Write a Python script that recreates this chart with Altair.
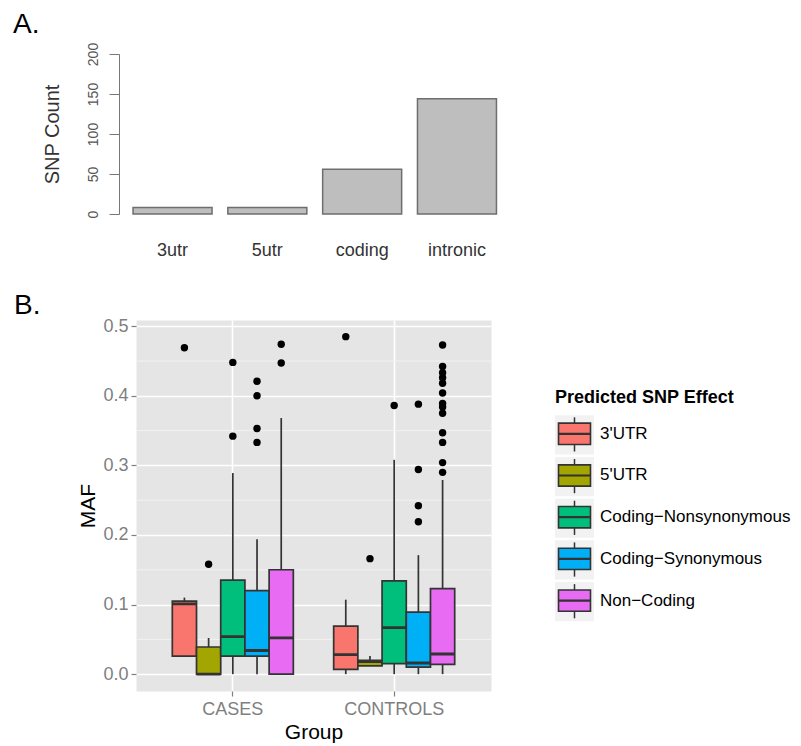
import altair as alt
import pandas as pd

# ---------------- Panel A data ----------------
region_cats = ["3utr", "5utr", "coding", "intronic"]
snp_counts = [8, 8, 56, 144]
count_ticks = [0, 50, 100, 150, 200]

# ---------------- Panel B data ----------------
groups = ["CASES", "CONTROLS"]
effects = ["3'UTR", "5'UTR", "Coding\u2212Nonsynonymous", "Coding\u2212Synonymous", "Non\u2212Coding"]
effect_colors = ["#F8766D", "#A3A500", "#00BF7D", "#00B0F6", "#E76BF3"]

cases_lower = [0.026, 0.000, 0.000, 0.000, 0.000]
cases_q1 = [0.026, 0.000, 0.026, 0.026, 0.000]
cases_median = [0.101, 0.000, 0.054, 0.034, 0.052]
cases_q3 = [0.105, 0.039, 0.135, 0.120, 0.150]
cases_upper = [0.110, 0.052, 0.289, 0.194, 0.368]

controls_lower = [0.000, 0.012, 0.000, 0.000, 0.000]
controls_q1 = [0.007, 0.012, 0.015, 0.010, 0.014]
controls_median = [0.028, 0.018, 0.067, 0.016, 0.029]
controls_q3 = [0.069, 0.020, 0.134, 0.089, 0.123]
controls_upper = [0.107, 0.026, 0.308, 0.171, 0.279]

cases_outliers = [
    [0.469],
    [0.158],
    [0.448, 0.342],
    [0.421, 0.400, 0.353, 0.333],
    [0.474, 0.447],
]
controls_outliers = [
    [0.485],
    [0.166],
    [0.386],
    [0.388, 0.294, 0.242, 0.219],
    [0.473, 0.442, 0.433, 0.426, 0.418, 0.404, 0.389, 0.384, 0.375, 0.347, 0.333, 0.304, 0.290],
]
maf_ticks = [0.0, 0.1, 0.2, 0.3, 0.4, 0.5]
maf_minor = [0.05, 0.15, 0.25, 0.35, 0.45]
maf_domain = [-0.0242, 0.5089]

legend_title = "Predicted SNP Effect"

# ---------------- tables ----------------
dfA = pd.DataFrame({"region": region_cats, "count": snp_counts})

box_rows = []
for g, lo, a, m, b, hi in [
    ("CASES", cases_lower, cases_q1, cases_median, cases_q3, cases_upper),
    ("CONTROLS", controls_lower, controls_q1, controls_median, controls_q3, controls_upper),
]:
    for i, e in enumerate(effects):
        box_rows.append({"group": g, "effect": e, "lower": lo[i], "q1": a[i],
                         "median": m[i], "q3": b[i], "upper": hi[i]})
box_df = pd.DataFrame(box_rows)

out_rows = []
for g, outs in [("CASES", cases_outliers), ("CONTROLS", controls_outliers)]:
    for i, e in enumerate(effects):
        for v in outs[i]:
            out_rows.append({"group": g, "effect": e, "maf": v})
out_df = pd.DataFrame(out_rows)
minor_df = pd.DataFrame({"v": maf_minor})

# ---------------- Panel A ----------------
chartA = alt.Chart(dfA).mark_bar(color="#BEBEBE", stroke="#6E6E6E", strokeWidth=1.5).encode(
    x=alt.X("region:N", sort=region_cats, title=None,
            scale=alt.Scale(paddingInner=0.1667, paddingOuter=0.148, range=[-17, 374.5]),
            axis=alt.Axis(domain=False, ticks=False, labelAngle=0, labelFontSize=18,
                          labelColor="#333333", labelPadding=27)),
    y=alt.Y("count:Q", title="SNP Count", scale=alt.Scale(domain=[0, 200], nice=False),
            axis=alt.Axis(values=count_ticks, grid=False, labelAngle=270, labelAlign="center",
                          labelBaseline="alphabetic", labelFontSize=14, labelColor="#555555",
                          labelPadding=12, tickSize=10, tickColor="#777777", offset=17,
                          domainColor="#777777", titleFontSize=20, titleColor="#333333",
                          titleFontWeight="normal", titlePadding=24)),
).properties(
    width=374.5, height=160,
    title=alt.TitleParams("A.", anchor="start", frame="group", dx=-123, offset=-19,
                          fontSize=28, fontWeight="normal", baseline="alphabetic"),
)

# ---------------- Panel B ----------------
yscale = alt.Scale(domain=maf_domain, nice=False, zero=False)
yaxis = alt.Axis(values=maf_ticks, format=".1f", domain=False, grid=True, gridColor="white",
                 gridWidth=1.6, labelFontSize=18, labelColor="#7F7F7F", tickColor="#7F7F7F",
                 tickSize=5, tickWidth=1.2, labelPadding=3, titleFontSize=21,
                 titleFontWeight="normal", titleColor="black", titlePadding=4)
xaxis = alt.Axis(domain=False, grid=True, gridColor="white", gridWidth=1.6, bandPosition=0.5,
                 labelAngle=0, labelFontSize=18, labelColor="#7F7F7F", tickColor="#7F7F7F",
                 tickSize=5, tickWidth=1.2, labelPadding=4, titleFontSize=21,
                 titleFontWeight="normal", titleColor="black", titlePadding=3)


def Y(field):
    return alt.Y(field, title="MAF", scale=yscale, axis=yaxis)


X = alt.X("group:N", title="Group", sort=groups,
          scale=alt.Scale(domain=groups, paddingInner=0.25, paddingOuter=0.225), axis=xaxis)
XO = alt.XOffset("effect:N", sort=effects,
                 scale=alt.Scale(domain=effects, paddingInner=0, paddingOuter=0))
color = alt.Color("effect:N", scale=alt.Scale(domain=effects, range=effect_colors), legend=None)

minor = alt.Chart(minor_df).mark_rule(color="#F2F2F2", strokeWidth=1).encode(y=Y("v:Q"))
base = alt.Chart(box_df).encode(x=X, xOffset=XO)
whisk_lo = base.mark_rule(color="#333333", strokeWidth=1.7).encode(y=Y("lower:Q"), y2="q1:Q")
whisk_hi = base.mark_rule(color="#333333", strokeWidth=1.7).encode(y=Y("q3:Q"), y2="upper:Q")
boxes = base.mark_bar(stroke="#333333", strokeWidth=1.7).encode(y=Y("q1:Q"), y2="q3:Q", color=color)
medians = base.mark_bar(fill="#333333", stroke="#333333", strokeWidth=2.8).encode(
    y=Y("median:Q"), y2="median:Q")
outliers = alt.Chart(out_df).mark_circle(color="black", size=55, opacity=1).encode(
    x=X, xOffset=XO, y=Y("maf:Q"))

chartB = alt.layer(minor, whisk_lo, whisk_hi, boxes, medians, outliers).properties(
    width=355, height=371,
    view=alt.ViewBackground(fill="#E5E5E5", stroke="transparent"),
    title=alt.TitleParams("B.", anchor="start", frame="group", dx=-122, offset=-25,
                          fontSize=28, fontWeight="normal", baseline="alphabetic"),
)

# ---------------- Legend (drawn as a small chart) ----------------
leg_df = pd.DataFrame({"effect": effects, "idx": list(range(len(effects)))})
leg_df["kt"] = leg_df["idx"] + 0.03
leg_df["kb"] = leg_df["idx"] + 0.97
leg_df["wt"] = leg_df["idx"] + 0.08
leg_df["wb"] = leg_df["idx"] + 0.90
leg_df["bt"] = leg_df["idx"] + 0.22
leg_df["bb"] = leg_df["idx"] + 0.73
leg_df["m"] = leg_df["idx"] + 0.475
ls = alt.Scale(domain=[-2.254, 6.643], reverse=True, nice=False, zero=False)
lt_df = pd.DataFrame({"t": [legend_title], "ty": [-0.256]})

lb = alt.Chart(leg_df)
leg_bg = lb.mark_rect(color="#F2F2F2").encode(
    x=alt.value(0), x2=alt.value(39), y=alt.Y("kt:Q", scale=ls, axis=None), y2="kb:Q")
leg_wh = lb.mark_rule(color="#333333", strokeWidth=1.5).encode(
    x=alt.value(19.5), y=alt.Y("wt:Q", scale=ls, axis=None), y2="wb:Q")
leg_box = lb.mark_rect(stroke="#333333", strokeWidth=1.6).encode(
    x=alt.value(3.5), x2=alt.value(35.5), y=alt.Y("bt:Q", scale=ls, axis=None), y2="bb:Q",
    color=color)
leg_med = lb.mark_rect(fill="#333333", stroke="#333333", strokeWidth=2.2).encode(
    x=alt.value(3.5), x2=alt.value(35.5), y=alt.Y("m:Q", scale=ls, axis=None), y2="m:Q")
leg_lab = lb.mark_text(align="left", baseline="middle", fontSize=17, color="black").encode(
    x=alt.value(45), y=alt.Y("m:Q", scale=ls, axis=None), text="effect:N")
leg_title = alt.Chart(lt_df).mark_text(align="left", baseline="alphabetic", fontSize=18,
                                       fontWeight="bold", color="black").encode(
    x=alt.value(0), y=alt.Y("ty:Q", scale=ls, axis=None), text="t:N")

legend = alt.layer(leg_bg, leg_wh, leg_box, leg_med, leg_lab, leg_title).properties(
    width=230, height=371, view=alt.ViewBackground(stroke="transparent"))

row = alt.hconcat(chartB, legend, spacing=62)

chart = alt.concat(chartA, row, columns=1, align="none", spacing=31).properties(
    padding={"left": 4, "top": 2, "right": 0, "bottom": 0}
).configure(font="Liberation Sans").configure_view(stroke="transparent")

chart.save("out.html", embed_options={"renderer": "svg", "actions": False})
